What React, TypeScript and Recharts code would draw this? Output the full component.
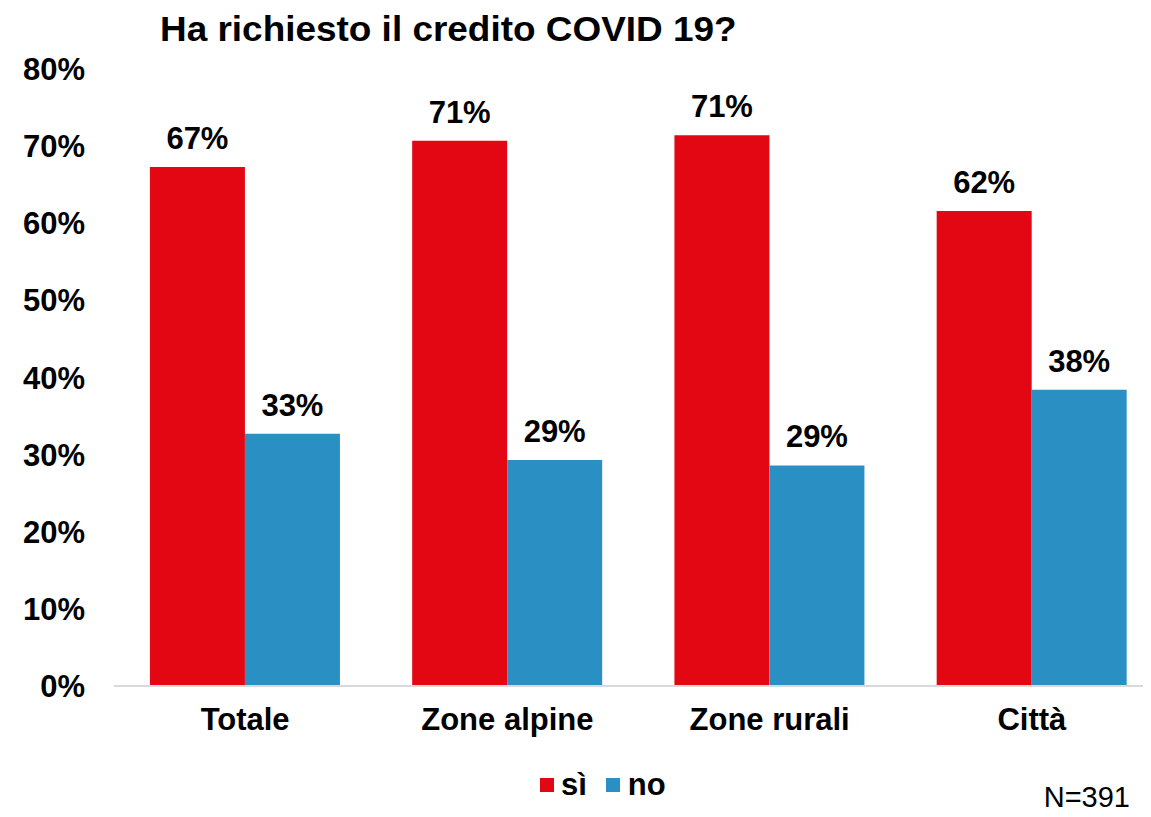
import { BarChart, Bar, XAxis, YAxis, LabelList } from "recharts";

const categories = ["Totale", "Zone alpine", "Zone rurali", "Città"];
const siValues = [67.3, 70.7, 71.4, 61.6];
const noValues = [32.7, 29.3, 28.6, 38.4];
const yTicks = [0, 10, 20, 30, 40, 50, 60, 70, 80];

const RED = "#e30713";
const BLUE = "#2a8fc3";
const FONT = "'Liberation Sans', Arial, sans-serif";

const data = categories.map((name, i) => ({
  name,
  si: siValues[i],
  no: noValues[i],
}));

const pct = (v: any) => `${Math.round(Number(v))}%`;

const labelStyle = {
  fontSize: 31,
  fontWeight: 700,
  fill: "#000",
  fontFamily: FONT,
};

export default function App() {
  return (
    <div
      style={{
        position: "relative",
        width: 1143,
        height: 801,
        fontFamily: FONT,
        background: "#fff",
      }}
    >
      <div
        style={{
          position: "absolute",
          left: 152,
          top: 3,
          fontSize: 35,
          lineHeight: "35px",
          fontWeight: 700,
          whiteSpace: "nowrap",
          transform: "scaleX(1.055)",
          transformOrigin: "left top",
        }}
      >
        Ha richiesto il credito COVID 19?
      </div>

      {/* chart is wider than the window on purpose: last group runs to the edge */}
      <div style={{ width: 1143, height: 801, overflow: "hidden" }}>
        <BarChart
          width={1155}
          height={809}
          data={data}
          margin={{ top: 61, right: 0, left: 0, bottom: 71 }}
          barCategoryGap="13.7%"
          barGap={0}
        >
          <XAxis
            dataKey="name"
            height={60}
            axisLine={{ stroke: "#d9d9d9", strokeWidth: 2 }}
            tickLine={false}
            tickSize={0}
            tickMargin={22}
            tick={labelStyle}
          />
          <YAxis
            width={106}
            domain={[0, 80]}
            ticks={yTicks}
            tickFormatter={pct}
            axisLine={false}
            tickLine={false}
            tickSize={0}
            tickMargin={29}
            tick={labelStyle}
          />
          <Bar dataKey="si" fill={RED} isAnimationActive={false}>
            <LabelList
              dataKey="si"
              position="top"
              offset={18}
              formatter={pct}
              style={labelStyle}
            />
          </Bar>
          <Bar dataKey="no" fill={BLUE} isAnimationActive={false}>
            <LabelList
              dataKey="no"
              position="top"
              offset={18}
              formatter={pct}
              style={labelStyle}
            />
          </Bar>
        </BarChart>
      </div>

      {/* legend */}
      <div
        style={{
          position: "absolute",
          left: 532,
          top: 762,
          display: "flex",
          alignItems: "center",
          fontSize: 31,
          fontWeight: 700,
          lineHeight: "30px",
        }}
      >
        <span style={{ width: 14, height: 14, background: RED, marginRight: 7 }} />
        <span>sì</span>
        <span
          style={{
            width: 14,
            height: 14,
            background: BLUE,
            marginLeft: 19,
            marginRight: 8,
          }}
        />
        <span>no</span>
      </div>

      <div
        style={{
          position: "absolute",
          right: 21,
          top: 774,
          fontSize: 29,
          lineHeight: "30px",
          whiteSpace: "nowrap",
        }}
      >
        N=391
      </div>
    </div>
  );
}
